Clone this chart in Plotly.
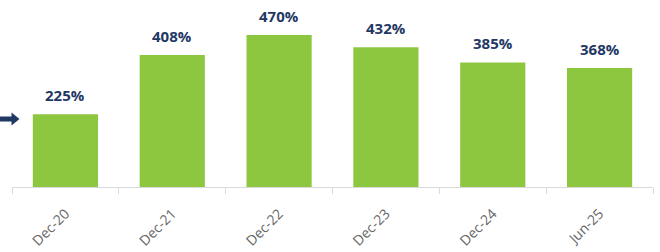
import plotly.graph_objects as go

categories = ["Dec-20", "Dec-21", "Dec-22", "Dec-23", "Dec-24", "Jun-25"]
values = [225, 408, 470, 432, 385, 368]
labels = ["225%", "408%", "470%", "432%", "385%", "368%"]

W, H = 660, 252
ML, MR, MT, MB = 12, 7, 0, 65
PW, PH = W - ML - MR, H - MT - MB


def px(x, y):
    return (x - ML) / PW, (H - MB - y) / PH


# arrow polygon (pixel coords -> paper coords)
arrow_pts = [(0, 116.5), (11.5, 116.5), (11.5, 112.5), (19.5, 119), (11.5, 125.5), (11.5, 121.5), (0, 121.5)]
path = "M " + " L ".join(f"{px(x, y)[0]:.5f},{px(x, y)[1]:.5f}" for x, y in arrow_pts) + " Z"

fig = go.Figure(go.Bar(
    x=categories, y=values,
    marker=dict(color="#8DC63F", line=dict(width=0)),
    hoverinfo="skip",
))

for c, v, t in zip(categories, values, labels):
    fig.add_annotation(
        x=c, y=v, text=t, showarrow=False, yanchor="bottom", yshift=7,
        font=dict(family="Open Sans", size=15, color="#1F3864", weight="bold"),
    )

fig.update_layout(
    width=W, height=H,
    margin=dict(l=ML, r=MR, t=MT, b=MB, autoexpand=False),
    paper_bgcolor="white", plot_bgcolor="white",
    bargap=0.39,
    showlegend=False,
    xaxis=dict(
        type="category", tickangle=-45, tickson="boundaries",
        ticks="outside", ticklen=6, tickcolor="#D9D9D9",
        showline=True, linecolor="#D9D9D9", linewidth=1,
        tickfont=dict(family="Open Sans", size=14, color="#666666"),
        ticklabelstandoff=12,
        showgrid=False, automargin=False,
    ),
    yaxis=dict(range=[0, 578], visible=False, showgrid=False, automargin=False),
    shapes=[dict(type="path", xref="paper", yref="paper", path=path,
                 fillcolor="#1F3864", line=dict(width=0), layer="above")],
)

fig.write_html(
    "out.html",
    config={"displayModeBar": False},
    post_script="document.body.style.margin='0';document.body.style.overflow='hidden';",
)
